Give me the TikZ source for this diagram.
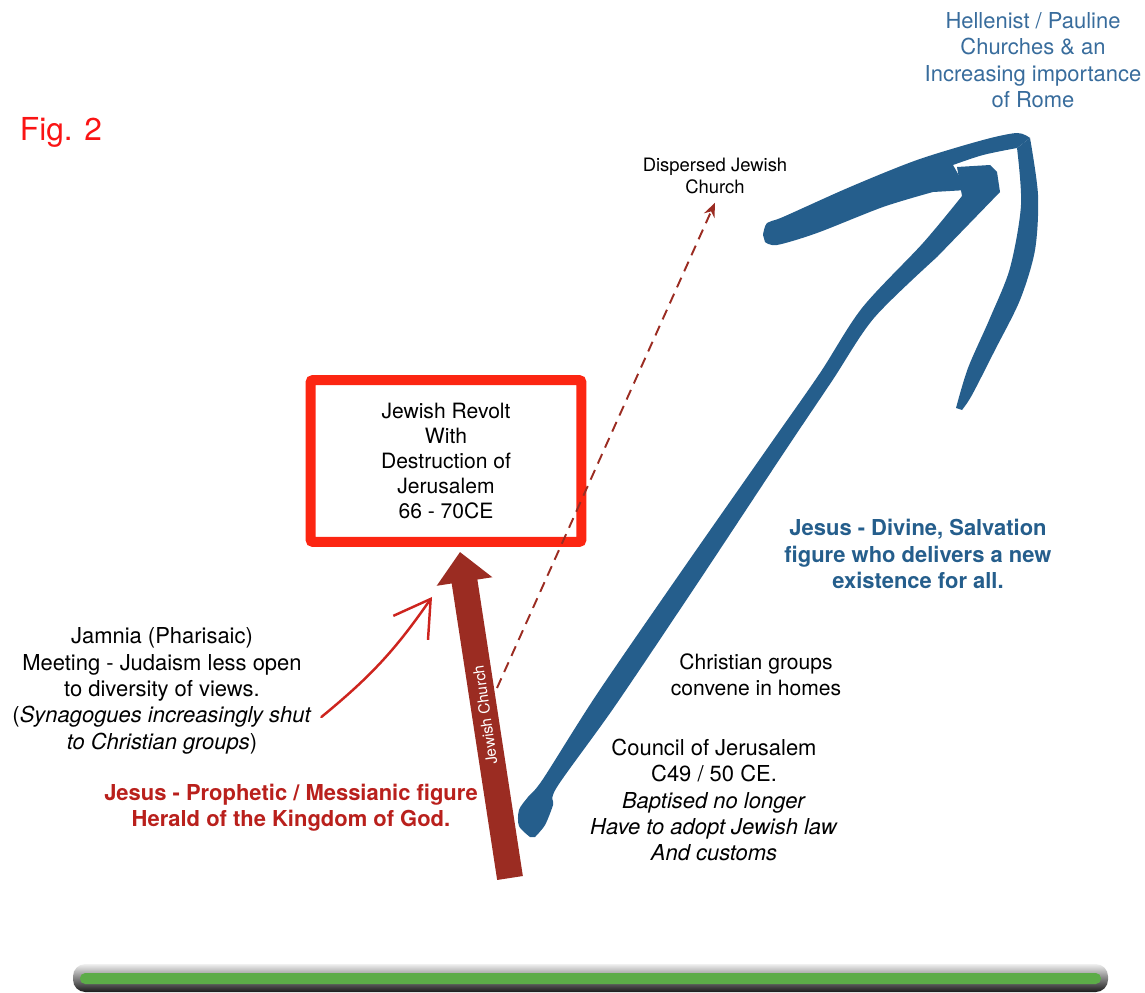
\documentclass[tikz,border=0pt]{standalone}
\usepackage{fontspec}
\setmainfont{TeX Gyre Heros}
\usetikzlibrary{arrows.meta}
\definecolor{figred}{RGB}{250,20,20}
\definecolor{revoltred}{RGB}{252,38,18}
\definecolor{churchred}{RGB}{155,44,34}
\definecolor{heraldred}{RGB}{185,32,28}
\definecolor{jamred}{RGB}{205,36,30}
\definecolor{paulblue}{RGB}{37,94,140}
\definecolor{paultext}{RGB}{56,108,156}
\definecolor{bargreen}{RGB}{92,172,72}

\begin{document}
\begin{tikzpicture}[x=0.02cm, y=-0.02cm]
    \tikzstyle{note} = [align=center, inner sep=2pt, font=\fontsize{12.5}{15}\selectfont]
    \tikzstyle{revoltbox} = [rectangle, draw=revoltred, line width=5.7pt, rounded corners=1.5pt,
        minimum width=5.42cm, minimum height=3.24cm, align=center, font=\fontsize{12}{14.2}\selectfont]
    \tikzstyle{churcharrow} = [line width=14.8pt, color=churchred, -{Triangle[length=17pt, width=31pt]}]
    \tikzstyle{dasharrow} = [dash pattern=on 6pt off 4pt, line width=1.1pt, color=churchred,
        -{Stealth[length=8pt, width=6.5pt]}]
    \tikzstyle{handarrow} = [line width=1.4pt, color=jamred, line cap=round, -{Straight Barb[length=20pt, width=24pt]}]
    \tikzstyle{brush} = [fill=paulblue]

    \useasboundingbox (0,0) rectangle (1145,993);

    % Pauline brush stroke
    \fill [brush] plot [smooth, tension=0.5] coordinates {(530,837) (519,826) (519,810) (528,797) (543,779)
        (597,694) (683,569) (769,446) (820,373) (862,308) (923,243) (962,196)}
        -- (957,167) -- (990,165) -- (997,172) -- (1000,192)
        -- plot [smooth, tension=0.5] coordinates {(937,257) (874,318) (832,381) (783,454) (699,581)
        (615,706) (557,787) (553,805) (545,825) (535,837)} -- cycle;
    \fill [brush] plot [smooth, tension=0.5] coordinates {(763,235) (767,223) (783,217) (850,187) (917,160)
        (983,140) (1017,133) (1030,138)} -- plot [smooth, tension=0.5] coordinates {(1017,148) (983,155)
        (953,165)} -- (967,190) -- plot [smooth, tension=0.5] coordinates {(933,192) (883,207) (817,233)
        (777,245) (765,242)} -- cycle;
    \fill [brush] plot [smooth, tension=0.5] coordinates {(1030,138) (1038,195) (1035,250) (1020,300)
        (995,350) (972,395) (962,410)} -- plot [smooth, tension=0.5] coordinates {(956,408) (968,368)
        (990,318) (1010,268) (1021,205) (1017,148)} -- cycle;

    \node [note, font=\fontsize{18}{20}\selectfont, text=figred] (fig) at (61,132) {Fig. 2};
    \node [note, text=paultext] (hellenist) at (1033,60) {Hellenist / Pauline\\Churches \& an\\Increasing importance\\of Rome};
    \node [note, font=\fontsize{10.5}{12.5}\selectfont] (dispersed) at (715,176) {Dispersed Jewish\\Church};
    \node [revoltbox] (revolt) at (446,461) {Jewish Revolt\\With\\Destruction of\\Jerusalem\\66 - 70CE};
    \node [note] (jamnia) at (162,691) {Jamnia (Pharisaic)\\Meeting - Judaism less open\\to diversity of views.\\(\textit{Synagogues increasingly shut}\\\textit{to Christian groups})};
    \node [note, text=heraldred, font=\fontsize{12.5}{15}\selectfont\bfseries] (herald) at (291,808) {Jesus - Prophetic / Messianic figure\\Herald of the Kingdom of God.};
    \node [note, text=paulblue, font=\fontsize{12.5}{15}\selectfont\bfseries] (divine) at (918,554) {Jesus - Divine, Salvation\\figure who delivers a new\\existence for all.};
    \node [note, font=\fontsize{12}{14.6}\selectfont] (homes) at (756,675) {Christian groups\\convene in homes};
    \node [note] (council) at (714,800) {Council of Jerusalem\\C49 / 50 CE.\\\textit{Baptised no longer}\\\textit{Have to adopt Jewish law}\\\textit{And customs}};

    \coordinate (jcbase) at (510,878);
    \coordinate (jctip) at ([xshift=0.28cm, yshift=-0.1cm]revolt.south);
    \coordinate (dstart) at (497,688);
    \coordinate (jamfrom) at ([xshift=0.12cm, yshift=-0.52cm]jamnia.east);
    \coordinate (jamto) at ([xshift=-0.28cm, yshift=-1cm]revolt.south);

    \draw [churcharrow] (jcbase) -- (jctip);
    \path (jcbase) -- (jctip) node [pos=0.5, rotate=98, text=white, font=\fontsize{8.7}{10}\selectfont] (jclabel) {Jewish Church};
    \draw [dasharrow] (dstart) -- ([yshift=-0.1cm]dispersed.south);
    \draw [handarrow] (jamfrom) to [bend right=8] (jamto);

    % timeline bar
    \shade [rounded corners=7pt, top color=gray!12, middle color=gray!55, bottom color=black!90] (73,964) rectangle (1108,992);
    \fill [bargreen, rounded corners=3pt] (80,973) rectangle (1101,984);
\end{tikzpicture}
\end{document}
